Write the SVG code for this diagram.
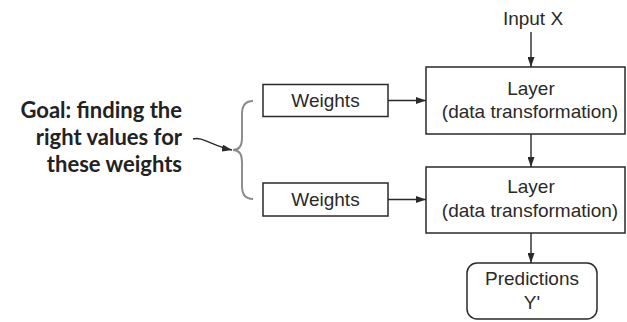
<svg xmlns="http://www.w3.org/2000/svg" width="627" height="322" viewBox="0 0 627 322">
<style>
.box{fill:#fff;stroke:#2a2a2a;stroke-width:1.5}
.lbl{font-family:"Liberation Sans",Arial,sans-serif;font-size:19px;fill:#2a2a2a;text-anchor:middle}
.goal{font-family:Lato,"Open Sans",sans-serif;font-weight:bold;font-size:22px;fill:#222;text-anchor:end}
.conn{fill:none;stroke:#2a2a2a;stroke-width:1.4}
.brace{fill:none;stroke:#8a8a8a;stroke-width:1.9}
</style>
<defs>
<marker id="ah" markerUnits="userSpaceOnUse" markerWidth="10" markerHeight="7" refX="10" refY="3.5" orient="auto">
<path d="M0,0 L10,3.5 L0,7 z" fill="#2a2a2a"/>
</marker>
</defs>
<rect width="627" height="322" fill="#fff"/>
<g id="goal">
<text class="goal" x="182" y="118">Goal: finding the</text>
<text class="goal" x="182" y="145">right values for</text>
<text class="goal" x="182" y="172">these weights</text>
</g>
<g id="input">
<text class="lbl" x="533" y="25">Input X</text>
</g>
<g id="weights1">
<rect class="box" x="263" y="84.5" width="125" height="32"/>
<text class="lbl" x="325.5" y="107">Weights</text>
</g>
<g id="weights2">
<rect class="box" x="263" y="183" width="125" height="33"/>
<text class="lbl" x="325.5" y="206">Weights</text>
</g>
<g id="layer1">
<rect class="box" x="426" y="67" width="199" height="67"/>
<text class="lbl" x="531" y="95">Layer</text>
<text class="lbl" x="530" y="118">(data transformation)</text>
</g>
<g id="layer2">
<rect class="box" x="426" y="167" width="199" height="66"/>
<text class="lbl" x="531" y="193">Layer</text>
<text class="lbl" x="530" y="217">(data transformation)</text>
</g>
<g id="predictions">
<rect class="box" x="467" y="263" width="130" height="56" rx="10"/>
<text class="lbl" x="532" y="285">Predictions</text>
<text class="lbl" x="532" y="309">Y'</text>
</g>
<g id="connectors">
<path class="brace" d="M253,101 C245,101 242,106 242,114 L242,138 C242,146 239,150 233,150 C239,150 242,154 242,162 L242,186 C242,194 245,199 253,199"/>
<path class="conn" d="M193,139 C202,136 212,146 232,150" marker-end="url(#ah)"/>
<line class="conn" x1="531" y1="32" x2="531" y2="67" marker-end="url(#ah)"/>
<line class="conn" x1="531" y1="134" x2="531" y2="167" marker-end="url(#ah)"/>
<line class="conn" x1="531" y1="233" x2="531" y2="263" marker-end="url(#ah)"/>
<line class="conn" x1="388" y1="100.5" x2="426" y2="100.5" marker-end="url(#ah)"/>
<line class="conn" x1="388" y1="199.5" x2="426" y2="199.5" marker-end="url(#ah)"/>
</g>
</svg>
